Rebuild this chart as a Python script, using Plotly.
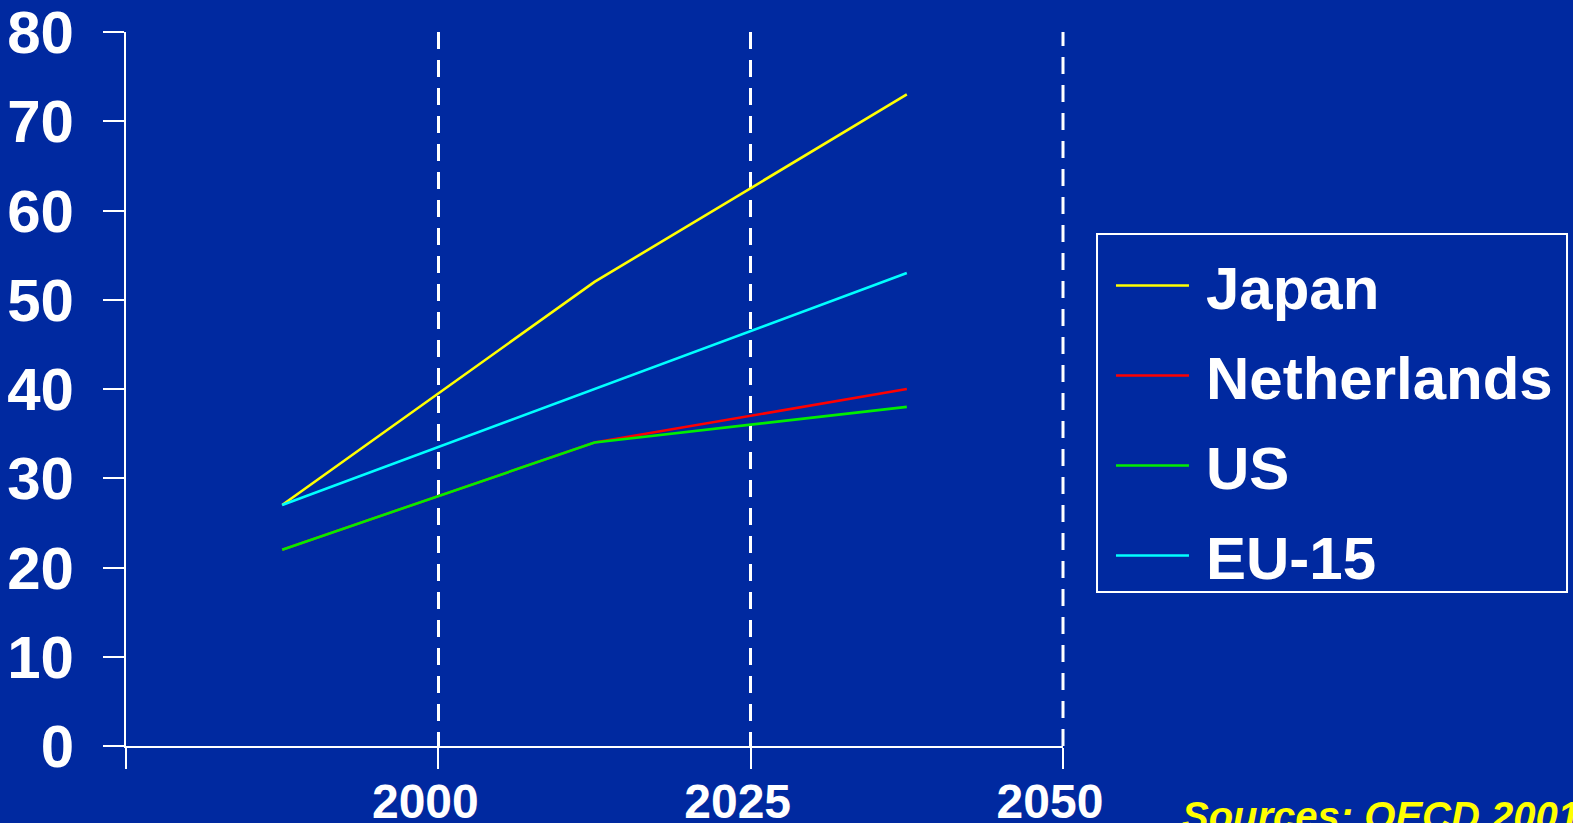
import plotly.graph_objects as go

# Share of population aged 65+ relative to working age (%), by projection period
period_mid = [1987.5, 2012.5, 2037.5]
japan = [27, 52, 73]
netherlands = [22, 34, 40]
us = [22, 34, 38]
eu15 = [27, 40, 53]

x_tickvals = [1975, 2000, 2025, 2050]
x_ticktext = ["", "2000", "2025", "2050"]
y_tickvals = [0, 10, 20, 30, 40, 50, 60, 70, 80]

BG = "#0029A0"
FONT = "Liberation Sans, Arial, sans-serif"
GRID_DASH = "17px,11px"
GRID_WIDTH = 3

series = [
    ("Japan", japan, "#FFFF00"),
    ("Netherlands", netherlands, "#FF0000"),
    ("US", us, "#00EE00"),
    ("EU-15", eu15, "#00FFFF"),
]

fig = go.Figure()
for name, vals, color in series:
    fig.add_trace(go.Scatter(
        x=period_mid, y=vals, name="\u2009" + name, mode="lines",
        line=dict(color=color, width=2.6),
        legendgroup=name,
    ))

fig.update_layout(
    width=1573, height=823,
    paper_bgcolor=BG, plot_bgcolor=BG,
    margin=dict(l=126, r=510, t=32, b=77, autoexpand=False),
    font=dict(family=FONT, color="white", size=60, weight="bold"),
    showlegend=True,
    legend=dict(
        x=1.0512, y=0.7087, xanchor="left", yanchor="top",
        borderwidth=0, bgcolor="rgba(0,0,0,0)",
        font=dict(size=60, color="white", family=FONT, weight="bold"),
        itemwidth=73, tracegroupgap=9,
    ),
    xaxis=dict(
        range=[x_tickvals[0], x_tickvals[-1]], tickvals=x_tickvals, ticktext=x_ticktext,
        showline=True, linecolor="white", linewidth=2,
        ticks="outside", ticklen=21, tickwidth=2, tickcolor="white",
        showgrid=True, gridcolor="white", gridwidth=GRID_WIDTH, griddash=GRID_DASH,
        zeroline=False, automargin=False,
        tickfont=dict(size=48, color="white", family=FONT, weight="bold"),
        ticklabelstandoff=-9, ticklabelshift=-13,
        ticklabeloverflow="allow",
    ),
    yaxis=dict(
        range=[0, 80], tickvals=y_tickvals,
        showline=True, linecolor="white", linewidth=2,
        ticks="outside", ticklen=21, tickwidth=2, tickcolor="white",
        showgrid=False, zeroline=False, automargin=False,
        tickfont=dict(size=60, color="white", family=FONT, weight="bold"),
        ticklabelstandoff=17, ticklabeloverflow="allow",
    ),
    shapes=[
        # dashed grid line along the right edge of the plot (end of time axis)
        dict(
            type="line", xref="paper", yref="paper",
            x0=1, x1=1, y0=0, y1=1,
            line=dict(color="white", width=GRID_WIDTH, dash=GRID_DASH),
        ),
        # legend frame
        dict(
            type="rect", xref="paper", yref="paper",
            x0=1.0363, x1=1.5379, y0=0.2157, y1=0.7171,
            line=dict(color="white", width=2), fillcolor="rgba(0,0,0,0)",
        ),
    ],
    annotations=[dict(
        text="<i>Sources: OECD 2001</i>", xref="paper", yref="paper",
        x=1.125, y=-0.0647, xanchor="left", yanchor="top", showarrow=False,
        font=dict(size=40, color="#FFFF00", family=FONT, weight="bold"),
    )],
)

fig.write_html("out.html")
